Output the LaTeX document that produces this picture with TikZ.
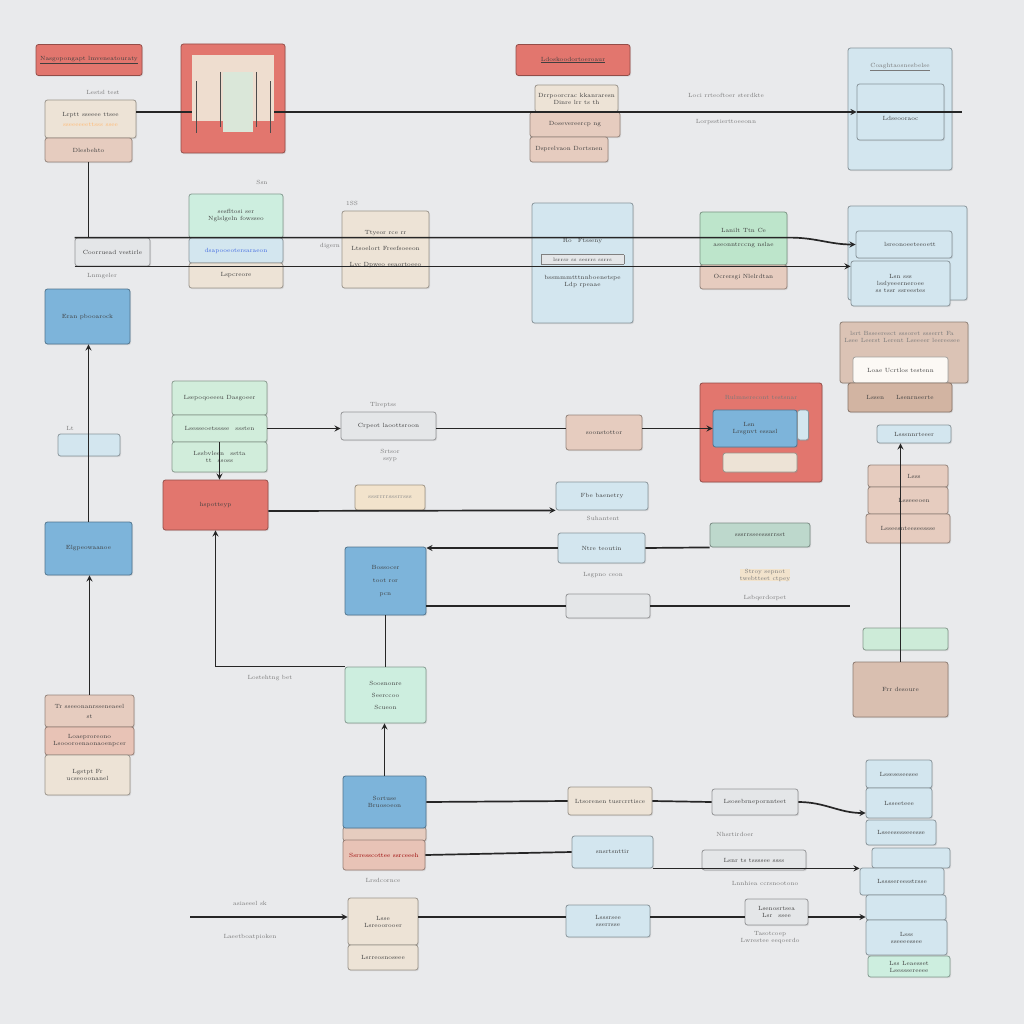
\documentclass[tikz,border=0pt]{standalone}
\usepackage[svgnames]{xcolor}
\usepackage{tikz}
\usetikzlibrary{arrows}
\usetikzlibrary{calc}
\usetikzlibrary{positioning}
\usetikzlibrary{shadows}
\tikzset{>=stealth}

\definecolor{bgc}{HTML}{E9EAEC}
\definecolor{txt}{HTML}{3F3F3F}
\definecolor{cred}{HTML}{E2766E}
\definecolor{cblue}{HTML}{7DB4DA}
\definecolor{cpale}{HTML}{D3E6EF}
\definecolor{cgreen}{HTML}{BDE5CB}
\definecolor{cmint}{HTML}{CDEEDF}
\definecolor{ctan}{HTML}{E6CCBF}
\definecolor{cpink}{HTML}{E8C3B6}
\definecolor{cbeige}{HTML}{EDE3D6}
\definecolor{cbrown}{HTML}{D2B4A2}
\definecolor{cgray}{HTML}{E4E6E8}
\definecolor{cyel}{HTML}{F2E3CC}
\definecolor{cpanel}{HTML}{EEDDCF}

\begin{document}
\begin{tikzpicture}[
        x=1pt,y=-1pt,
        every node/.style={font=\fontsize{6}{7}\selectfont,text=txt,align=center},
        card/.style={rectangle,rounded corners=2.5pt,draw=#1!65!black,fill=#1,line width=0.8pt,inner sep=1pt,
            drop shadow={shadow xshift=1pt,shadow yshift=-1.2pt,opacity=0.18}},
        lbl/.style={text=txt!70,inner sep=0pt},
        link/.style={line width=1.7pt,draw=black!85}
    ]
    \fill[bgc] (0,0) rectangle (1024,1024);
    \useasboundingbox (0,0) rectangle (1024,1024);

    % top row
    \node[card=cred,minimum width=106,minimum height=31] (titleL) at (89,60) {\underline{Nasgopongapt lmveneatouraty}};
    \node[card=cbeige,minimum width=91,minimum height=38] (cfgTop) at (90.5,119) {Lrptt sseeee ttsee\\[3pt]\textcolor{orange!55}{sseeeeeettsss ssee}};
    \node[card=ctan,minimum width=87,minimum height=24] (cfgBot) at (88.5,150) {Dlesbehto};
    \node[lbl] (lTest) at (103,92) {Lestsl test};
    \node[card=cred,minimum width=104,minimum height=109] (panel) at (233,98.5) {};

    \node[card=cred,minimum width=114,minimum height=31] (titleM) at (573,60) {\underline{Ldoskoodortoeroaur}};
    \node[card=cbeige,minimum width=83,minimum height=27] (stkM1) at (576.5,98.5) {Drrpoorcrac kkanraresn\\Dinre lrr ts th};
    \node[card=ctan,minimum width=90,minimum height=25] (stkM2) at (575,124.5) {Dosevereercp ng};
    \node[card=ctan,minimum width=78,minimum height=25] (stkM3) at (569,149.5) {Dsprelvaon Dortsnen};
    \node[lbl] (lLoci) at (726,95) {Loci rrteoftoer sterdkte};
    \node[lbl] (lLorp) at (726,122) {Lorpsstierttoeeonn};

    \node[card=cpale,minimum width=104,minimum height=122] (outR1) at (900,109) {};
    \node[lbl] (lCoag) at (900,67) {\underline{Coaghtaosnesbelse}};
    \node[card=cpale,minimum width=87,minimum height=56] (inR1) at (900.5,112) {\\[10pt]Ldseooraoc};
    \coordinate (topEnd) at (962,112);

    % second row
    \node[card=cgray,minimum width=75,minimum height=28] (wideBox) at (112.5,252) {Coorruead vestirle};
    \node[lbl] (lLnm) at (102,276) {Lnmgeler};
    \node[card=cmint,minimum width=94,minimum height=44] (tealTop) at (236,216) {sesfltosi ser\\Nglslgeln fowsseo};
    \node[card=cpale,minimum width=94,minimum height=25] (tealMid) at (236,250.5) {\textcolor{RoyalBlue}{dsapooeotersaraeon}};
    \node[card=cbeige,minimum width=94,minimum height=25] (tealBot) at (236,275.5) {Lspcreore};
    \node[lbl] (lSsn) at (262,182) {Ssn};
    \node[card=cbeige,minimum width=87,minimum height=77] (beigeBox) at (385.5,249.5) {Ttyeor rce rr\\[9pt]Ltsoelort Freefsoeeon\\[9pt]Lvc Dpweo eeaortoeeo};
    \node[lbl] (l1SS) at (352,203) {1SS};
    \node[lbl] (lDig) at (330,246) {digern};
    \node[card=cpale,minimum width=101,minimum height=120] (pbBox) at (582.5,263) {Ro\quad Ftsseny\\[10pt]\fcolorbox{gray}{cgray}{\makebox[76pt]{\tiny lsrrsr ss sesrrs ssrrs}}\\[10pt]bssmmmtttnnboenetspe\\ Ldp rpeaae};
    \node[card=cgreen,minimum width=87,minimum height=53] (greenBox) at (743.5,238.5) {Lanilt Ttn Ce\\[7pt]aseonntrccng nslae};
    \node[card=ctan,minimum width=87,minimum height=24] (greenBot) at (743.5,277) {Ocrersgi Nlelrdtan};

    \node[card=cpale,minimum width=119,minimum height=94] (outR2) at (907.5,253) {};
    \node[card=cpale,minimum width=96,minimum height=27] (inR2a) at (904,244.5) {\qquad lsreonoeeteeoett};
    \node[card=cpale,minimum width=99,minimum height=45] (inR2b) at (900.5,283.5) {Lsn sss\\ lsslyeeerneroee\\ ss tssr ssreestes};

    % left column
    \node[card=cblue,minimum width=85,minimum height=55] (blueA) at (87.5,316.5) {Eran pbooarock};
    \node[card=cpale,minimum width=62,minimum height=22] (smallBox) at (89,445) {};
    \node[lbl] (lLt) at (70,428) {Lt};
    \node[card=cblue,minimum width=87,minimum height=53] (blueB) at (88.5,548.5) {Elgpeowaanoe};
    \node[card=ctan,minimum width=89,minimum height=32] (tanL1) at (89.5,711) {Tr sseeonanrsseneaeel\\[3pt] st};
    \node[card=cpink,minimum width=89,minimum height=28] (tanL2) at (89.5,741) {Loaeproreono\\Lsoooroenaonaoenpcer};
    \node[card=cbeige,minimum width=85,minimum height=40] (tanL3) at (87.5,775) {Lgstpt Fr\\ ucseooonanel};

    % middle rows
    \node[card=cgreen!70!white,minimum width=95,minimum height=34] (gS1) at (219.5,398) {Lsepoqoeeeu Dasgoeer};
    \node[card=cgreen!70!white,minimum width=95,minimum height=27] (gS2) at (219.5,428.5) {Lsesseoetsssse\quad sssten};
    \node[card=cgreen!70!white,minimum width=95,minimum height=30] (gS3) at (219.5,457) {Lssbvleen\quad sstta\\ tt\quad ssoss};
    \node[card=cred,minimum width=105,minimum height=50] (redMid) at (215.5,505) {hspotteyp};
    \node[lbl] (lTlr) at (383,405) {Tlreptss};
    \node[card=cgray,minimum width=95,minimum height=28] (cpBox) at (388.5,426) {Crpeot laoottsroon};
    \node[lbl] (lSrt) at (390,455) {Srtsor\\ssyp};
    \node[card=cyel,minimum width=70,minimum height=25] (yelBox) at (390,497.5) {\textcolor{txt!60}{sssrrrrsssrrsss}};
    \node[card=ctan,minimum width=76,minimum height=35] (soBox) at (604,432.5) {soonstottor};
    \node[card=cred,minimum width=122,minimum height=99] (redBig) at (761,432.5) {};
    \node[lbl] (lRul) at (761,397) {Rulmnerecont testsnar};
    \node[card=cblue,minimum width=84,minimum height=37] (rbBlue) at (755,428.5) {Lsn\qquad\qquad\\ Lrsgnvt essasl};
    \node[card=cpale,minimum width=11,minimum height=30] (rbStrip) at (803,425) {};
    \node[card=cbeige,minimum width=74,minimum height=19] (rbPale) at (760,462.5) {};

    \node[card=cpale,minimum width=92,minimum height=28] (pbSmall) at (602,496) {Fbe baenetry};
    \node[lbl] (lSuh) at (603,518) {Suhantent};
    \node[card=cblue,minimum width=81,minimum height=68] (blueMid) at (385.5,581) {Bossocer\\[6pt]toot ror\\[6pt]pcn};
    \node[card=cpale,minimum width=87,minimum height=30] (ntBox) at (601.5,548) {Ntre teoutin};
    \node[lbl] (lLsg) at (603,575) {Lsgpno ceon};
    \node[card=cmint!80!gray,minimum width=100,minimum height=24] (gBox) at (760,535) {sssrrsseesssrrsst};
    \node[lbl,fill=cyel] (lStr) at (765,575) {Stroy sepnot\\twebtteet ctpey};
    \node[card=cgray,minimum width=84,minimum height=24] (sBox) at (608,606) {};
    \node[lbl] (lLsb) at (765,598) {Lsbqerdorpet};
    \coordinate (endA) at (850,606);

    \node[card=cmint,minimum width=81,minimum height=56] (mint) at (385.5,695) {Soosnonre\\[5pt]Seerccoo\\[5pt]Scueon};
    \node[lbl] (lLos) at (270,678) {Lostehtng bet};
    \node[card=ctan,minimum width=83,minimum height=14] (blueLowBack) at (384.5,834) {};
    \node[card=cblue,minimum width=83,minimum height=52] (blueLow) at (384.5,802) {Sortuse\\ Bruosoeon};
    \node[card=cpink,minimum width=82,minimum height=30] (pinkLow) at (384,855) {\textcolor{red!60!black}{Ssrresscottee ssrceeeh}};
    \node[lbl] (lLrs) at (383,880) {Lrsdcornce};

    \node[card=cbeige,minimum width=84,minimum height=28] (b1) at (610,801) {Ltsorenen tusrcrrtisce};
    \node[card=cgray,minimum width=86,minimum height=26] (b2) at (755,802) {Lsosebrnepornnteet};
    \node[lbl] (lNhs) at (735,834) {Nhsrtirdoer};
    \node[card=cpale,minimum width=81,minimum height=32] (c1) at (612.5,852) {snsrtsnttir};
    \node[card=cgray,minimum width=104,minimum height=20] (c2) at (754,860) {Lsnr ts tssssee ssss};
    \node[lbl] (lLnn) at (765,883) {Lnnhiea ccrsnootono};
    \coordinate (startD) at (190,917);
    \node[lbl] (lAsi) at (250,903) {asiaeeel sk};
    \node[lbl] (lLae) at (250,937) {Laeetboatpioken};
    \node[card=cbeige,minimum width=70,minimum height=47] (d0) at (383,921.5) {Lsse\\ Lsreoorooer};
    \node[card=cbeige,minimum width=70,minimum height=25] (d0b) at (383,957.5) {Lsrreosnoseee};
    \node[card=cpale,minimum width=84,minimum height=32] (d1) at (608,921) {Lsssrsee\\ sserrsse};
    \node[card=cgray,minimum width=63,minimum height=26] (d2) at (776.5,912) {Lsenosrtsea\\ Lsr\quad ssee};
    \node[lbl] (lTas) at (770,938) {Tasotcoep\\Lwrestee eeqoerdo};

    % right column, middle
    \node[card=cbrown!80!white,minimum width=128,minimum height=61] (brownTop) at (904,352.5) {};
    \node[lbl] (lBrn) at (902,337) {lsrt Bsseeresct sssoret ssserrt Fa\\ Lsee Leerst Lerent Lseeeer leereesee};
    \node[card=white!80!cyel,minimum width=95,minimum height=26] (brownIn) at (900.5,370) {Loae Ucrtlos testenn};
    \node[card=cbrown,minimum width=104,minimum height=29] (brown2) at (900,397.5) {Lssen\qquad Lsenrneerte};
    \node[card=cpale,minimum width=74,minimum height=18] (pbR) at (914,434) {Lsssnnrteeer};
    \node[card=ctan,minimum width=80,minimum height=22] (tanR1) at (908,476) {\qquad Lsss};
    \node[card=ctan,minimum width=80,minimum height=27] (tanR2) at (908,500.5) {\qquad Lsseeeoen};
    \node[card=ctan,minimum width=84,minimum height=29] (tanR3) at (908,528.5) {Lsseesnteeseessse};
    \node[card=cgreen!75!white,minimum width=85,minimum height=22] (greenR) at (905.5,639) {};
    \node[card=cbrown!85!white,minimum width=95,minimum height=55] (brownBot) at (900.5,689.5) {Frr desoure};

    % right column, bottom
    \node[card=cpale,minimum width=66,minimum height=28] (r1) at (899,774) {Lsseseseesee};
    \node[card=cpale,minimum width=66,minimum height=30] (r2) at (899,803) {Lsseeteee};
    \node[card=cpale,minimum width=70,minimum height=25] (r3) at (901,832.5) {Lsseesesseeesse};
    \node[card=cpale,minimum width=78,minimum height=20] (r4) at (911,858) {};
    \node[card=cpale,minimum width=84,minimum height=27] (r5) at (902,881.5) {Lssssereesstrsse};
    \node[card=cpale,minimum width=80,minimum height=25] (r6) at (906,907.5) {};
    \node[card=cpale,minimum width=81,minimum height=35] (r7) at (906.5,937.5) {Lsss\\ sseeeessee};
    \node[card=cmint,minimum width=82,minimum height=21] (r8) at (909,966.5) {Lss Leaesset\\ Lsesssereeee};

    % connectors
    \draw[link,->] (cfgTop.east |- inR1.west) -- (inR1.west);
    \draw[link] (inR1.west) -- (topEnd);
    \node[rectangle,fill=cpanel,minimum width=82,minimum height=66,inner sep=0pt] (panelIn) at (233,88) {};
    \node[rectangle,fill=cmint!60!cpanel,minimum width=30,minimum height=60,inner sep=0pt] (panelCore) at (238,102) {};
    \draw[black!70,thin] (panelIn.south west) ++(4,-40) -- ++(0,52);
    \draw[black!70,thin] (panelCore.north west) ++(-3,0) -- ++(0,55);
    \draw[black!70,thin] (panelCore.north east) ++(3,0) -- ++(0,55);
    \draw[black!70,thin] (panelIn.south east) ++(-4,-40) -- ++(0,52);
    \draw[link] (cfgBot.south) -- (cfgBot.south |- wideBox.north);
    \draw[link,->] (wideBox.north west) -- (wideBox.north west -| 790,0) to[out=0,in=180] (inR2a.west);
    \draw[link,->] (wideBox.south west) -- (wideBox.south west -| inR2b.west);
    \draw[link,->] (blueB.north) -- (blueB.north |- blueA.south);
    \draw[link,->] (tanL1.north) -- (tanL1.north |- blueB.south);
    \draw[link,->] (gS2.east) -- (gS2.east -| cpBox.west);
    \draw[link] (cpBox.east |- gS2.east) -- (gS2.east -| soBox.west);
    \draw[link,->] (soBox.east |- gS2.east) -- (gS2.east -| rbBlue.west);
    \draw[link,->] (gS2.south) -- (gS2.south |- redMid.north);
    \draw[link,->] ([yshift=-6pt]redMid.east) -- (pbSmall.south west);
    \draw[link,->] (ntBox.west) -- (ntBox.west -| blueMid.east);
    \draw[link] (ntBox.east) -- (gBox.south west);
    \draw[link] (blueMid.east |- sBox.west) -- (sBox.west);
    \draw[link] (sBox.east) -- (endA);
    \draw[link] (blueMid.south) -- (mint.north);
    \draw[link,->] (mint.north west) -| (redMid.south);
    \draw[link,->] (blueLow.north) -- (blueLow.north |- mint.south);
    \draw[link] (blueLow.east) -- (b1.west);
    \draw[link] (b1.east) -- (b2.west);
    \draw[link,->] (b2.east) to[out=0,in=180] ([yshift=-10pt]r2.west);
    \draw[link] (pinkLow.east) -- (c1.west);
    \draw[link,->] (c1.south east) -- (c1.south east -| r5.west);
    \draw[link,->] (startD) -- (startD -| d0.west);
    \draw[link] (startD -| d0.east) -- (startD -| d1.west);
    \draw[link] (startD -| d1.east) -- (startD -| d2.west);
    \draw[link,->] (startD -| d2.east) -- (startD -| r6.west);
    \draw[link,<-] (pbR.south -| brownBot.north) -- (brownBot.north);
\end{tikzpicture}
\end{document}
